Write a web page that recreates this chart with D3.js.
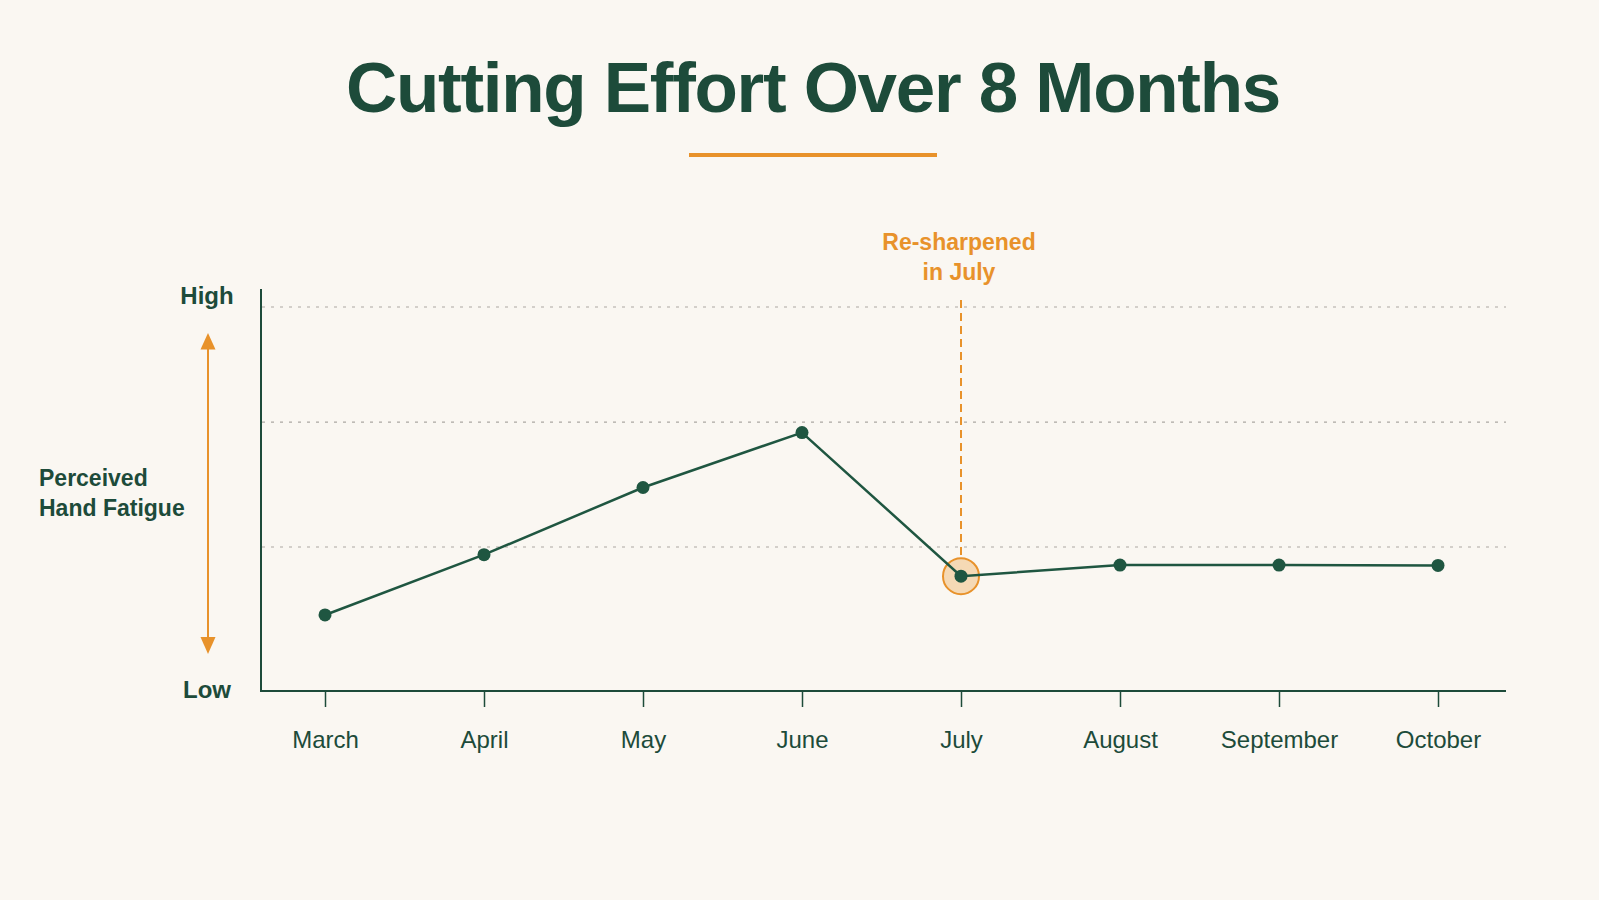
<!DOCTYPE html>
<html>
<head>
<meta charset="utf-8">
<script src="https://cdn.jsdelivr.net/npm/d3@7"></script>
<style>
  html, body { margin: 0; padding: 0; background: #FAF7F2; }
  svg { display: block; }
  text { font-family: "Liberation Sans", Arial, Helvetica, sans-serif; }
</style>
</head>
<body>
<svg id="chart" width="1599" height="900"></svg>
<script>
// ---- data ----
const months = ["March", "April", "May", "June", "July", "August", "September", "October"];
const fatigue = [19.8, 35.5, 53.0, 67.3, 29.9, 32.8, 32.8, 32.7];
const gridValues = [37.5, 70, 100];
const yLabels = ["Low", "High"];
const annotationMonth = "July";
const annotationText = ["Re-sharpened", "in July"];
const titleText = "Cutting Effort Over 8 Months";
const yTitle = ["Perceived", "Hand Fatigue"];

// ---- styles ----
const GREEN = "#1D4B3A";
const LINE = "#1F5641";
const ORANGE = "#E8922B";
const GRID = "#ABA8A2";

const svg = d3.select("#chart");

const x = d3.scalePoint().domain(months).range([325, 1438]);
const y = d3.scaleLinear().domain([0, 100]).range([691, 307]);

// title
svg.append("text")
  .attr("x", 813).attr("y", 112)
  .attr("text-anchor", "middle")
  .attr("font-size", 71).attr("font-weight", "bold")
  .attr("letter-spacing", -1.3)
  .attr("fill", GREEN)
  .text(titleText);

svg.append("line")
  .attr("x1", 689).attr("x2", 937).attr("y1", 155).attr("y2", 155)
  .attr("stroke", ORANGE).attr("stroke-width", 4);

// gridlines
svg.append("g").selectAll("line").data(gridValues).join("line")
  .attr("x1", 262).attr("x2", 1506)
  .attr("y1", d => y(d)).attr("y2", d => y(d))
  .attr("stroke", GRID).attr("stroke-width", 1.2)
  .attr("stroke-dasharray", "3,6");

// y axis line
svg.append("line")
  .attr("x1", 261).attr("x2", 261).attr("y1", 289).attr("y2", y(0))
  .attr("stroke", GREEN).attr("stroke-width", 2);

// x axis
const xAxis = svg.append("g")
  .attr("transform", `translate(0,${y(0)})`)
  .call(d3.axisBottom(x).tickSize(16).tickPadding(24).tickSizeOuter(0));
xAxis.select(".domain").remove();
xAxis.selectAll(".tick line").attr("stroke", GREEN).attr("stroke-width", 1.5);
xAxis.selectAll(".tick text")
  .attr("font-size", 24).attr("fill", GREEN)
  .style("font-family", '"Liberation Sans", Arial, sans-serif');
svg.append("line")
  .attr("x1", 260).attr("x2", 1506).attr("y1", y(0)).attr("y2", y(0))
  .attr("stroke", GREEN).attr("stroke-width", 2);

// y labels
svg.append("text").attr("x", 207).attr("y", y(100) - 3)
  .attr("text-anchor", "middle").attr("font-size", 24).attr("font-weight", "bold")
  .attr("fill", GREEN).text(yLabels[1]);
svg.append("text").attr("x", 207).attr("y", y(0) + 7)
  .attr("text-anchor", "middle").attr("font-size", 24).attr("font-weight", "bold")
  .attr("fill", GREEN).text(yLabels[0]);

// arrow
svg.append("line")
  .attr("x1", 208).attr("x2", 208).attr("y1", 345).attr("y2", 640)
  .attr("stroke", ORANGE).attr("stroke-width", 2);
svg.append("path").attr("d", "M208,333 L200.5,349.5 L215.5,349.5 Z").attr("fill", ORANGE);
svg.append("path").attr("d", "M208,654 L200.5,637 L215.5,637 Z").attr("fill", ORANGE);

// y title
svg.append("text").attr("x", 39).attr("y", 486)
  .attr("font-size", 23).attr("font-weight", "bold").attr("fill", GREEN)
  .selectAll("tspan").data(yTitle).join("tspan")
  .attr("x", 39).attr("dy", (d, i) => i === 0 ? 0 : 30).text(d => d);

// annotation
const ai = months.indexOf(annotationMonth);
const ax = x(annotationMonth), ay = y(fatigue[ai]);
svg.append("line")
  .attr("x1", ax).attr("x2", ax).attr("y1", 300).attr("y2", ay - 18)
  .attr("stroke", ORANGE).attr("stroke-width", 2).attr("stroke-dasharray", "8,5");
svg.append("text").attr("x", ax - 2).attr("y", 250)
  .attr("text-anchor", "middle").attr("font-size", 23).attr("font-weight", "bold")
  .attr("fill", ORANGE)
  .selectAll("tspan").data(annotationText).join("tspan")
  .attr("x", ax - 2).attr("dy", (d, i) => i === 0 ? 0 : 29.5).text(d => d);
svg.append("circle").attr("cx", ax).attr("cy", ay).attr("r", 18)
  .attr("fill", "#F3D3AA").attr("fill-opacity", 0.85)
  .attr("stroke", ORANGE).attr("stroke-width", 2);

// line + dots
const line = d3.line().x((d, i) => x(months[i])).y(d => y(d));
svg.append("path").datum(fatigue)
  .attr("d", line).attr("fill", "none")
  .attr("stroke", LINE).attr("stroke-width", 2.5);
svg.append("g").selectAll("circle").data(fatigue).join("circle")
  .attr("cx", (d, i) => x(months[i])).attr("cy", d => y(d))
  .attr("r", 6.5).attr("fill", LINE);
</script>
</body>
</html>
